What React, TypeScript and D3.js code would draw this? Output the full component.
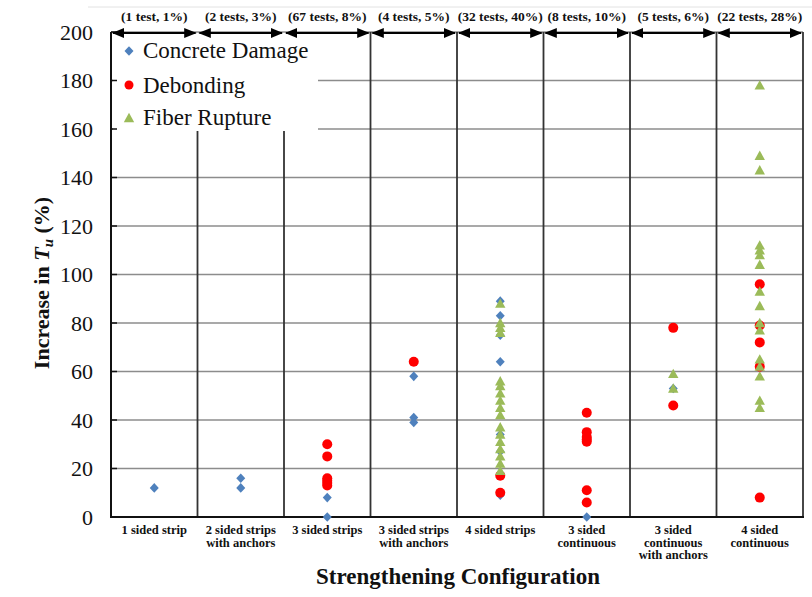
import React from "react";
import * as d3 from "d3";

const categories = [
  ["1 sided strip"],
  ["2 sided strips", "with anchors"],
  ["3 sided strips"],
  ["3 sided strips", "with anchors"],
  ["4 sided strips"],
  ["3 sided", "continuous"],
  ["3 sided", "continuous", "with anchors"],
  ["4 sided", "continuous"],
];

const groupLabels = [
  "(1 test, 1%)",
  "(2 tests, 3%)",
  "(67 tests, 8%)",
  "(4 tests, 5%)",
  "(32 tests, 40%)",
  "(8 tests, 10%)",
  "(5 tests, 6%)",
  "(22 tests, 28%)",
];

const yTicks = [0, 20, 40, 60, 80, 100, 120, 140, 160, 180, 200];

// [category index, increase in Tu (%)]
const concreteDamage: [number, number][] = [
  [0, 12],
  [1, 16], [1, 12],
  [2, 8], [2, 0],
  [3, 58], [3, 41], [3, 39],
  [4, 89], [4, 83], [4, 75], [4, 64], [4, 34], [4, 27], [4, 9],
  [5, 0],
  [6, 53],
];

const debonding: [number, number][] = [
  [2, 30], [2, 25], [2, 16], [2, 15], [2, 14], [2, 13],
  [3, 64],
  [4, 17], [4, 10],
  [5, 43], [5, 35], [5, 33], [5, 32], [5, 31], [5, 11], [5, 6],
  [6, 78], [6, 46],
  [7, 96], [7, 79], [7, 72], [7, 62], [7, 8],
];

const fiberRupture: [number, number][] = [
  [4, 88], [4, 80], [4, 78], [4, 76], [4, 56], [4, 54], [4, 51], [4, 48],
  [4, 45], [4, 42], [4, 37], [4, 34], [4, 31], [4, 28], [4, 25], [4, 22], [4, 19],
  [6, 59], [6, 53],
  [7, 178], [7, 149], [7, 143], [7, 112], [7, 110], [7, 108], [7, 104],
  [7, 93], [7, 87], [7, 80], [7, 77], [7, 65], [7, 62], [7, 58], [7, 48], [7, 45],
];

const BLUE = "#4f81bd";
const RED = "#ff0000";
const GREEN = "#9bbb59";
const SERIF = "'Liberation Serif', 'Times New Roman', serif";

// Square-ish diamond and triangle markers
const diamondPath = "M0,-4.8 L4.5,0 L0,4.8 L-4.5,0 Z";
const trianglePath = "M0,-5.2 L5.2,4.2 L-5.2,4.2 Z";

export default function App() {
  const left = 111;
  const right = 803;
  const top = 32;
  const bottom = 517;

  const x = d3
    .scaleBand<number>()
    .domain(categories.map((_, i) => i))
    .range([left, right])
    .paddingInner(0)
    .paddingOuter(0);
  const y = d3.scaleLinear().domain([0, 200]).range([bottom, top]);
  const bw = x.bandwidth();
  const cx = (i: number) => (x(i) as number) + bw / 2;

  const legendBottom = 131;
  const legendRight = 318;

  return (
    <svg
      width={812}
      height={597}
      style={{ position: "absolute", left: 0, top: 0, background: "#fff" }}
    >
      <defs>
        <marker
          id="arrowHead"
          viewBox="0 0 10 10"
          refX="9"
          refY="5"
          markerWidth="7"
          markerHeight="7"
          orient="auto-start-reverse"
        >
          <path d="M0,1 L10,5 L0,9 Z" fill="#000" />
        </marker>
      </defs>

      <rect x={0} y={0} width={812} height={597} fill="#fff" />
      <line x1={88} x2={812} y1={7} y2={7} stroke="#e2e2e2" strokeWidth={1} />

      {/* horizontal gridlines */}
      {yTicks.map((t) => (
        <line
          key={"g" + t}
          x1={left}
          x2={right}
          y1={y(t)}
          y2={y(t)}
          stroke="#8c8c8c"
          strokeWidth={1.6}
        />
      ))}

      {/* category dividers */}
      {categories.slice(1).map((_, k) => {
        const i = k + 1;
        const xx = x(i) as number;
        const y1 = i <= 2 ? legendBottom : top;
        return (
          <line
            key={"v" + i}
            x1={xx}
            x2={xx}
            y1={y1}
            y2={bottom}
            stroke="#333"
            strokeWidth={1.8}
          />
        );
      })}
      <line x1={right} x2={right} y1={top} y2={bottom} stroke="#333" strokeWidth={1.8} />

      {/* legend box */}
      <rect
        x={left + 2}
        y={top + 3}
        width={legendRight - left - 2}
        height={legendBottom - top - 4}
        fill="#fff"
      />

      {/* axes */}
      <line x1={left} x2={left} y1={top} y2={bottom + 1} stroke="#111" strokeWidth={2} />
      <line x1={left - 1} x2={right + 1} y1={bottom} y2={bottom} stroke="#111" strokeWidth={2.2} />
      {yTicks.map((t) => (
        <line key={"t" + t} x1={left} x2={left + 6} y1={y(t)} y2={y(t)} stroke="#111" strokeWidth={1.5} />
      ))}
      {yTicks.map((t) => (
        <text
          key={"l" + t}
          x={93}
          y={y(t) + 7.5}
          textAnchor="end"
          fontFamily={SERIF}
          fontSize={22}
          fill="#111"
        >
          {t}
        </text>
      ))}

      {/* group size annotations */}
      {groupLabels.map((lab, i) => {
        const x0 = x(i) as number;
        return (
          <g key={"a" + i}>
            <line
              x1={x0 + 2}
              x2={x0 + bw - 2}
              y1={top + 1}
              y2={top + 1}
              stroke="#000"
              strokeWidth={1.8}
              markerStart="url(#arrowHead)"
              markerEnd="url(#arrowHead)"
            />
            <text
              x={cx(i)}
              y={21}
              textAnchor="middle"
              fontFamily={SERIF}
              fontWeight="bold"
              fontSize={13.5}
              fill="#111"
            >
              {lab}
            </text>
          </g>
        );
      })}

      {/* legend entries */}
      <path d={diamondPath} transform="translate(129,51)" fill={BLUE} />
      <text x={143} y={58} fontFamily={SERIF} fontSize={23} fill="#111">
        Concrete Damage
      </text>
      <circle cx={129} cy={85} r={4.5} fill={RED} />
      <text x={143} y={93} fontFamily={SERIF} fontSize={23} fill="#111">
        Debonding
      </text>
      <path d={trianglePath} transform="translate(129,118)" fill={GREEN} />
      <text x={143} y={125} fontFamily={SERIF} fontSize={23} fill="#111">
        Fiber Rupture
      </text>

      {/* data */}
      {concreteDamage.map(([c, v], i) => (
        <path key={"c" + i} d={diamondPath} transform={`translate(${cx(c)},${y(v)})`} fill={BLUE} />
      ))}
      {debonding.map(([c, v], i) => (
        <circle key={"d" + i} cx={cx(c)} cy={y(v)} r={5} fill={RED} />
      ))}
      {fiberRupture.map(([c, v], i) => (
        <path key={"f" + i} d={trianglePath} transform={`translate(${cx(c)},${y(v)})`} fill={GREEN} />
      ))}

      {/* category labels */}
      {categories.map((lines, i) => (
        <text
          key={"x" + i}
          textAnchor="middle"
          fontFamily={SERIF}
          fontWeight="bold"
          fontSize={12.5}
          fill="#111"
        >
          {lines.map((ln, j) => (
            <tspan key={j} x={cx(i)} y={534 + j * 12.5}>
              {ln}
            </tspan>
          ))}
        </text>
      ))}

      <text
        x={458}
        y={584}
        textAnchor="middle"
        fontFamily={SERIF}
        fontWeight="bold"
        fontSize={23}
        fill="#111"
      >
        Strengthening Configuration
      </text>

      <text
        transform="translate(49,283) rotate(-90)"
        textAnchor="middle"
        fontFamily={SERIF}
        fontWeight="bold"
        fontSize={22}
        fill="#111"
      >
        Increase in{" "}
        <tspan fontStyle="italic">T</tspan>
        <tspan fontStyle="italic" fontSize={15} dy={4}>
          u
        </tspan>
        <tspan dy={-4}> (%)</tspan>
      </text>
    </svg>
  );
}
